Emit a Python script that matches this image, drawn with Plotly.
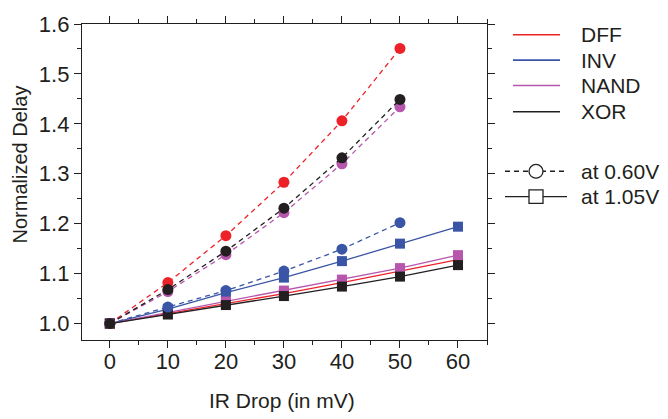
import plotly.graph_objects as go

# IR drop (mV) and normalized delay per cell type
ir_low = [0, 10, 20, 30, 40, 50]          # measured at 0.60 V
ir_high = [0, 10, 20, 30, 40, 50, 60]     # measured at 1.05 V

dff_060 = [1.0, 1.082, 1.176, 1.283, 1.406, 1.551]
inv_060 = [1.0, 1.033, 1.066, 1.105, 1.149, 1.202]
nand_060 = [1.0, 1.064, 1.138, 1.222, 1.320, 1.434]
xor_060 = [1.0, 1.068, 1.145, 1.231, 1.332, 1.449]

dff_105 = [1.0, 1.020, 1.040, 1.060, 1.082, 1.105, 1.128]
inv_105 = [1.0, 1.029, 1.062, 1.092, 1.125, 1.160, 1.194]
nand_105 = [1.0, 1.022, 1.044, 1.066, 1.088, 1.111, 1.137]
xor_105 = [1.0, 1.018, 1.037, 1.055, 1.074, 1.094, 1.117]

cells = ["DFF", "INV", "NAND", "XOR"]
colors = ["#ED2229", "#3A55A6", "#B656AD", "#231F20"]
low_series = [dff_060, inv_060, nand_060, xor_060]
high_series = [dff_105, inv_105, nand_105, xor_105]

fig = go.Figure()

# 1.05 V: solid lines with squares
for name, col, ys in zip(cells, colors, high_series):
    fig.add_trace(go.Scatter(
        x=ir_high, y=ys, mode="lines+markers", name=name + " 1.05V",
        line=dict(color=col, width=1.3),
        marker=dict(symbol="square", size=10, color=col),
        showlegend=False))

# 0.60 V: dashed lines with circles
for name, col, ys in zip(cells, colors, low_series):
    fig.add_trace(go.Scatter(
        x=ir_low, y=ys, mode="lines+markers", name=name + " 0.60V",
        line=dict(color=col, width=1.3, dash="5px,4px"),
        marker=dict(symbol="circle", size=11, color=col),
        showlegend=False))

FONT = "Liberation Sans, Arial, sans-serif"
ink = "#231F20"
axis_common = dict(
    showgrid=False, zeroline=False, showline=True, linecolor=ink,
    linewidth=1.3, mirror="allticks", ticks="outside", ticklen=7,
    tickwidth=1.3, tickcolor=ink,
    tickfont=dict(family=FONT, size=22, color=ink),
)
fig.update_xaxes(range=[-4.8, 65], tick0=0, dtick=10, ticklabelstandoff=-6,
                 minor=dict(dtick=5, ticks="outside", ticklen=4,
                            tickcolor=ink, tickwidth=1.3),
                 **axis_common)
fig.update_yaxes(range=[0.967, 1.6], tick0=1.0, dtick=0.1, tickformat=".1f",
                 minor=dict(dtick=0.05, ticks="outside", ticklen=4,
                            tickcolor=ink, tickwidth=1.3),
                 **axis_common)

# Key on the right: colour per cell, then line style per supply voltage
shapes = []
annotations = []
px_w = 668 - 82 - 181
px_h = 419 - 16 - 79


def px_to_paper(px, py):
    return (px - 82) / px_w, 1 - (py - 16) / px_h


key_y = [27, 53, 79, 106]
for name, col, yy in zip(cells, colors, key_y):
    xa, ya = px_to_paper(513, yy)
    xb, _ = px_to_paper(560, yy)
    xt, _ = px_to_paper(579, yy)
    shapes.append(dict(type="line", xref="paper", yref="paper",
                       x0=xa, x1=xb, y0=ya, y1=ya,
                       line=dict(color=col, width=1.6)))
    annotations.append(dict(x=xt, y=ya, xref="paper", yref="paper",
                            text=name, showarrow=False, xanchor="left",
                            yanchor="middle",
                            font=dict(family=FONT, size=21, color=ink)))

# voltage style samples
for yy, dash, label, sym in [(167, "5px,4px", "at 0.60V", "circle"),
                             (193, "solid", "at 1.05V", "square")]:
    xa, ya = px_to_paper(505, yy)
    xb, _ = px_to_paper(567, yy)
    xc, _ = px_to_paper(536, yy)
    xt, _ = px_to_paper(579, yy)
    shapes.append(dict(type="line", xref="paper", yref="paper",
                       x0=xa, x1=xb, y0=ya, y1=ya,
                       line=dict(color=ink, width=1.3, dash=dash)))
    annotations.append(dict(x=xt, y=ya, xref="paper", yref="paper",
                            text=label, showarrow=False, xanchor="left",
                            yanchor="middle",
                            font=dict(family=FONT, size=21, color=ink)))
    hw = 7 / px_w
    hh = 7 / px_h
    shapes.append(dict(type="circle" if sym == "circle" else "rect",
                       xref="paper", yref="paper",
                       x0=xc - hw, x1=xc + hw, y0=ya - hh, y1=ya + hh,
                       fillcolor="white", line=dict(color=ink, width=1.3)))

# Axis titles
tx, ty = px_to_paper(282, 402)
annotations.append(dict(x=tx, y=ty, xref="paper", yref="paper",
                        text="IR Drop (in mV)", showarrow=False,
                        xanchor="center", yanchor="middle",
                        font=dict(family=FONT, size=21, color=ink)))
tx, ty = px_to_paper(20, 160)
annotations.append(dict(x=tx, y=ty, xref="paper", yref="paper",
                        text="Normalized Delay", showarrow=False, textangle=-90,
                        xanchor="center", yanchor="middle",
                        font=dict(family=FONT, size=20, color=ink)))

fig.update_layout(
    width=668, height=419,
    margin=dict(l=82, r=181, t=16, b=79),
    paper_bgcolor="white", plot_bgcolor="white",
    showlegend=False, shapes=shapes, annotations=annotations,
)

fig.write_html("out.html")
